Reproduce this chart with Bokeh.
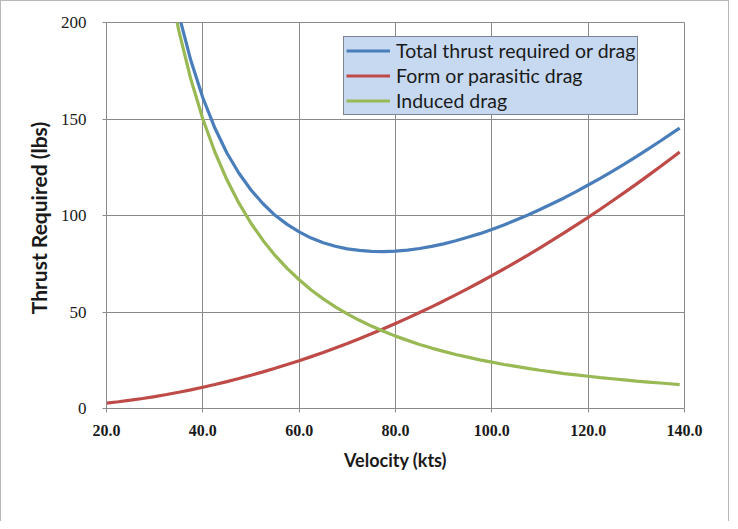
from bokeh.plotting import figure
from bokeh.models import Range1d, Legend, LegendItem, FixedTicker, NumeralTickFormatter
from bokeh.embed import file_html
from bokeh.resources import INLINE

velocity = [20, 22.5, 25, 27.5, 30, 32.5, 35, 37.5, 40, 42.5, 45, 47.5, 50, 52.5, 55,
            57.5, 60, 62.5, 65, 67.5, 70, 72.5, 75, 77.5, 80, 82.5, 85, 87.5, 90, 92.5,
            95, 97.5, 100, 102.5, 105, 107.5, 110, 112.5, 115, 117.5, 120, 122.5, 125,
            127.5, 130, 132.5, 135, 137.5, 139]
total_drag = [602.8, 477.6, 388.3, 322.6, 272.9, 234.5, 204.3, 180.4, 161.0, 145.3,
              132.4, 121.9, 113.2, 106.1, 100.1, 95.4, 91.5, 88.3, 85.9, 84.1, 82.7,
              81.9, 81.4, 81.3, 81.5, 82.1, 82.9, 84.0, 85.3, 86.9, 88.7, 90.6, 92.8,
              95.1, 97.7, 100.3, 103.1, 106.1, 109.1, 112.4, 115.8, 119.2, 122.9,
              126.6, 130.5, 134.5, 138.6, 142.8, 145.3]
parasitic_drag = [2.75, 3.48, 4.30, 5.20, 6.19, 7.27, 8.43, 9.68, 11.01, 12.43, 13.93,
                  15.52, 17.20, 18.96, 20.81, 22.75, 24.77, 26.88, 29.07, 31.35, 33.71,
                  36.16, 38.70, 41.32, 44.03, 46.83, 49.71, 52.68, 55.73, 58.87, 62.09,
                  65.40, 68.80, 72.28, 75.85, 79.51, 83.25, 87.08, 90.99, 94.99, 99.07,
                  103.24, 107.50, 111.84, 116.27, 120.79, 125.39, 130.08, 132.93]
induced_drag = [600.0, 474.1, 384.0, 317.4, 266.7, 227.2, 195.9, 170.7, 150.0, 132.9,
                118.5, 106.4, 96.0, 87.1, 79.3, 72.6, 66.7, 61.4, 56.8, 52.7, 49.0,
                45.7, 42.7, 40.0, 37.5, 35.3, 33.2, 31.3, 29.6, 28.0, 26.6, 25.2, 24.0,
                22.8, 21.8, 20.8, 19.8, 19.0, 18.1, 17.4, 16.7, 16.0, 15.4, 14.8, 14.2,
                13.7, 13.2, 12.7, 12.4]
series_names = ["Total thrust required or drag", "Form or parasitic drag", "Induced drag"]
x_ticks = [20, 40, 60, 80, 100, 120, 140]
y_ticks = [0, 50, 100, 150, 200]

colors = ["#4A7EBB", "#BE4B48", "#98B954"]

p = figure(width=729, height=521, output_backend="svg", toolbar_location=None,
           x_range=Range1d(20, 140), y_range=Range1d(0, 200),
           min_border_left=105, min_border_right=46, min_border_top=21, min_border_bottom=114)
p.styles = {"border-left": "1px solid #b8b8b8", "border-top": "1px solid #b8b8b8",
            "border-right": "1px solid #b8b8b8"}
p.background_fill_color = "white"
p.border_fill_color = "white"
p.outline_line_color = "#8a8a8a"
p.outline_line_width = 1

grid_col = "#8a8a8a"
p.xgrid.ticker = FixedTicker(ticks=x_ticks)
p.ygrid.ticker = FixedTicker(ticks=y_ticks)
p.xgrid.grid_line_color = grid_col
p.ygrid.grid_line_color = grid_col
p.xgrid.grid_line_width = 1
p.ygrid.grid_line_width = 1

p.xaxis.ticker = FixedTicker(ticks=x_ticks)
p.yaxis.ticker = FixedTicker(ticks=y_ticks)
p.xaxis.formatter = NumeralTickFormatter(format="0.0")
for ax in (p.xaxis, p.yaxis):
    ax.axis_line_color = grid_col
    ax.major_tick_line_color = grid_col
    ax.major_tick_in = 0
    ax.major_tick_out = 4
    ax.minor_tick_line_color = None
    ax.major_label_text_font = "Liberation Serif"
    ax.major_label_text_font_size = "16px"
    ax.major_label_text_color = "#1a1a1a"
    ax.axis_label_text_font = "Lato"
    ax.axis_label_text_font_style = "bold"
    ax.axis_label_text_color = "#1a1a1a"
p.xaxis.major_label_text_font_style = "bold"
p.yaxis.major_label_text_font_size = "17px"
p.xaxis.axis_label_text_font_size = "18px"
p.yaxis.axis_label_text_font_size = "21px"
p.xaxis.major_label_standoff = 12
p.yaxis.major_label_standoff = 16
p.xaxis.axis_label = "Velocity (kts)"
p.yaxis.axis_label = "Thrust Required  (lbs)"
p.xaxis.axis_label_standoff = 10
p.yaxis.axis_label_standoff = 7

r_total = p.line(velocity, total_drag, line_color=colors[0], line_width=3.2)
r_para = p.line(velocity, parasitic_drag, line_color=colors[1], line_width=3.2)
r_ind = p.line(velocity, induced_drag, line_color=colors[2], line_width=3.2)

legend = Legend(items=[LegendItem(label=series_names[0], renderers=[r_total]),
                       LegendItem(label=series_names[1], renderers=[r_para]),
                       LegendItem(label=series_names[2], renderers=[r_ind])],
                location=(237, 293))
legend.background_fill_color = "#C6D9F1"
legend.background_fill_alpha = 1
legend.border_line_color = "#303030"
legend.border_line_width = 1
legend.label_text_font = "Lato"
legend.label_text_font_size = "19.5px"
legend.label_text_color = "#1a1a1a"
legend.glyph_width = 44
legend.glyph_height = 23
legend.label_height = 23
legend.label_standoff = 6
legend.spacing = 2
legend.padding = 2
legend.margin = 0
p.add_layout(legend, "center")

open("out.html", "w").write(file_html(p, INLINE))
